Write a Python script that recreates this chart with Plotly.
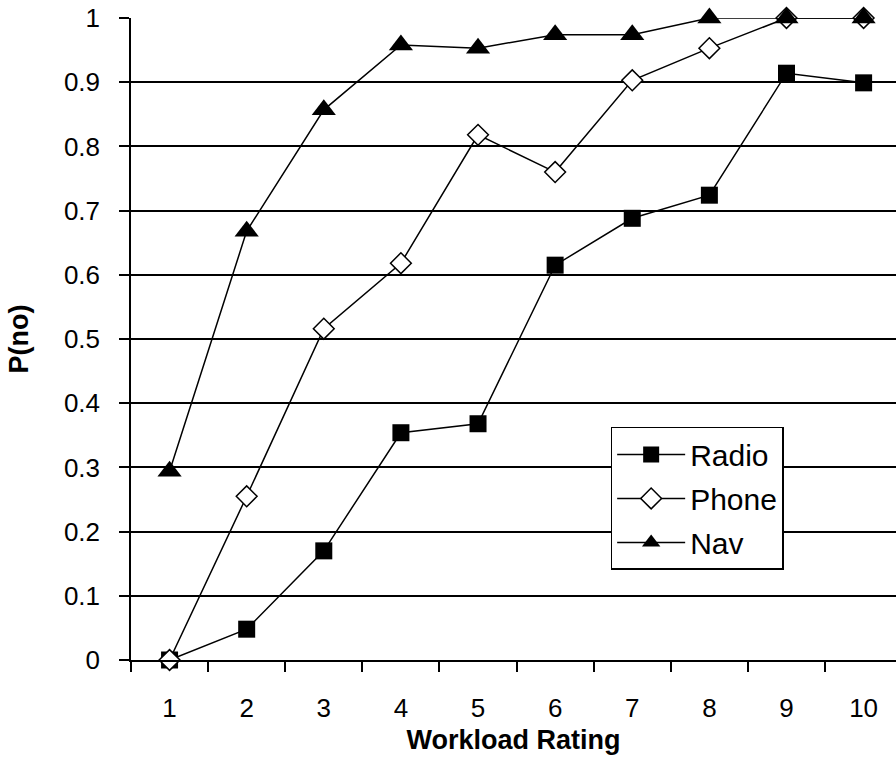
import plotly.graph_objects as go

# Workload rating categories
ratings = ["1", "2", "3", "4", "5", "6", "7", "8", "9", "10"]

# P(no) per rating
radio = [0.0, 0.048, 0.170, 0.354, 0.368, 0.615, 0.688, 0.724, 0.914, 0.899]
phone = [0.0, 0.255, 0.516, 0.618, 0.818, 0.760, 0.903, 0.953, 1.0, 1.0]
nav = [0.294, 0.668, 0.857, 0.958, 0.953, 0.974, 0.974, 1.0, 1.0, 1.0]

yticks = [0, 0.1, 0.2, 0.3, 0.4, 0.5, 0.6, 0.7, 0.8, 0.9, 1]
ytick_text = ["0", "0.1", "0.2", "0.3", "0.4", "0.5", "0.6", "0.7", "0.8", "0.9", "1"]

FONT = "Liberation Sans, Arial, sans-serif"

fig = go.Figure()
fig.add_trace(go.Scatter(
    x=ratings, y=radio, name="Radio", mode="lines+markers", legendgroup="r",
    line=dict(color="black", width=1.5), cliponaxis=False,
    marker=dict(symbol="square", size=17, color="black"),
))
fig.add_trace(go.Scatter(
    x=ratings, y=phone, name="Phone", mode="lines+markers", legendgroup="p",
    line=dict(color="black", width=1.5), cliponaxis=False,
    marker=dict(symbol="diamond", size=16, color="white", line=dict(color="black", width=1.5)),
))
fig.add_trace(go.Scatter(
    x=ratings, y=nav, name="Nav", mode="lines+markers", legendgroup="n",
    line=dict(color="black", width=1.5), cliponaxis=False,
    marker=dict(symbol="triangle-up", size=21, color="black"),
))

fig.update_layout(
    width=896, height=782,
    margin=dict(l=131, r=0, t=18, b=122),
    paper_bgcolor="white", plot_bgcolor="white",
    font=dict(family=FONT, size=26, color="black"),
    showlegend=True,
    legend=dict(
        x=0.627, y=0.363, xanchor="left", yanchor="top",
        bordercolor="black", borderwidth=1.5, bgcolor="white",
        font=dict(size=30), itemwidth=68, tracegroupgap=2,
    ),
)
fig.update_xaxes(
    type="category", range=[-0.5, 9.42], automargin=False,
    tickson="boundaries", ticks="outside", ticklen=10, tickwidth=1.5, tickcolor="black",
    ticklabelstandoff=24, ticklabeloverflow="allow",
    showline=True, linecolor="black", linewidth=1.5,
    showgrid=False, zeroline=False,
    title=dict(text="<b>Workload Rating</b>", font=dict(size=27), standoff=8),
)
fig.update_yaxes(
    range=[0, 1], tickvals=yticks, ticktext=ytick_text, automargin=False,
    ticks="outside", ticklen=10, tickwidth=1.5, tickcolor="black",
    ticklabelstandoff=14, ticklabeloverflow="allow",
    showline=True, linecolor="black", linewidth=1.5,
    showgrid=True, gridcolor="black", gridwidth=1.5, zeroline=False,
    title=dict(text="<b>P(no)</b>", font=dict(size=27), standoff=27),
)

# drop the default body margin so the figure sits at the page corner
fig.write_html(
    "out.html",
    config={"displayModeBar": False},
    post_script="document.body.style.margin = '0';",
)
